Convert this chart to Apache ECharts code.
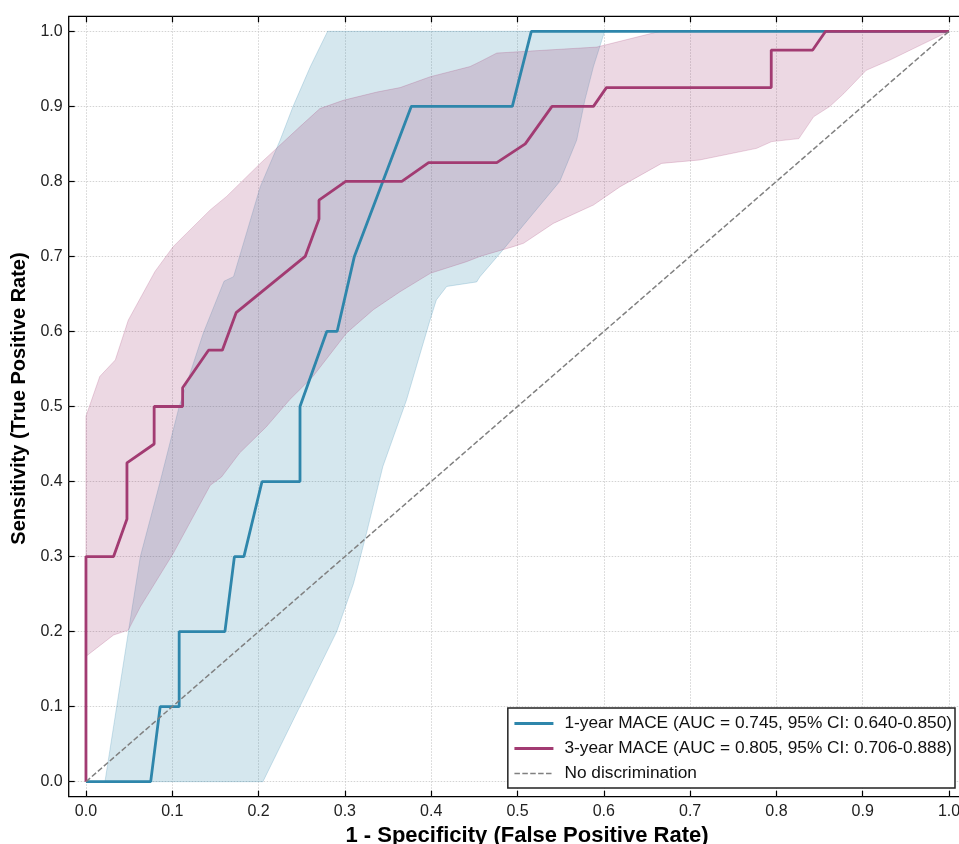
<!DOCTYPE html>
<html>
<head>
<meta charset="utf-8">
<script src="https://cdn.jsdelivr.net/npm/echarts@6/dist/echarts.min.js"></script>
<style>html,body{margin:0;padding:0;background:#fff;}#c{width:959px;height:844px;}</style>
</head>
<body>
<div id="c"></div>
<script>
// ---- data ----
const tickValues = [0, 0.1, 0.2, 0.3, 0.4, 0.5, 0.6, 0.7, 0.8, 0.9, 1.0];

// 1-year MACE ROC curve
const fpr1 = [0, 0.075, 0.086, 0.108, 0.108, 0.161, 0.172, 0.183, 0.204, 0.248, 0.248, 0.279, 0.291, 0.311, 0.377, 0.494, 0.516, 1.0];
const tpr1 = [0, 0, 0.1, 0.1, 0.2, 0.2, 0.3, 0.3, 0.4, 0.4, 0.5, 0.6, 0.6, 0.7, 0.9, 0.9, 1.0, 1.0];

// 3-year MACE ROC curve
const fpr3 = [0, 0, 0.032, 0.0475, 0.0475, 0.079, 0.079, 0.112, 0.112, 0.142, 0.158, 0.174, 0.254, 0.27, 0.27, 0.301, 0.366, 0.397, 0.476, 0.509, 0.540, 0.588, 0.603, 0.794, 0.794, 0.842, 0.857, 1.0];
const tpr3 = [0, 0.3, 0.3, 0.35, 0.425, 0.45, 0.5, 0.5, 0.525, 0.575, 0.575, 0.625, 0.7, 0.75, 0.775, 0.8, 0.8, 0.825, 0.825, 0.85, 0.9, 0.9, 0.925, 0.925, 0.975, 0.975, 1.0, 1.0];

// 1-year 95% CI band
const ci1UpX = [0.022, 0.050, 0.063, 0.086, 0.108, 0.136, 0.160, 0.171, 0.186, 0.202, 0.225, 0.240, 0.260, 0.280, 1.0];
const ci1UpY = [0, 0.206, 0.30, 0.40, 0.50, 0.598, 0.667, 0.673, 0.731, 0.793, 0.855, 0.90, 0.953, 1.0, 1.0];
const ci1LoX = [0.205, 0.2905, 0.31, 0.325, 0.344, 0.3715, 0.3986, 0.406, 0.418, 0.4527, 0.4565, 0.4797, 0.549, 0.5686, 0.578, 0.588, 0.601, 1.0];
const ci1LoY = [0, 0.2, 0.264, 0.331, 0.42, 0.509, 0.615, 0.642, 0.66, 0.666, 0.673, 0.704, 0.80, 0.855, 0.908, 0.953, 1.0, 1.0];

// 3-year 95% CI band
const ci3UpX = [0, 0.016, 0.034, 0.049, 0.080, 0.101, 0.144, 0.163, 0.202, 0.248, 0.271, 0.298, 0.337, 0.364, 0.399, 0.445, 0.4565, 0.476, 0.592, 0.665, 1.0];
const ci3UpY = [0.487, 0.54, 0.562, 0.615, 0.68, 0.713, 0.762, 0.78, 0.824, 0.873, 0.897, 0.908, 0.919, 0.925, 0.9395, 0.953, 0.9595, 0.971, 0.979, 1.0, 1.0];
const ci3LoX = [0, 0.032, 0.049, 0.063, 0.101, 0.144, 0.157, 0.178, 0.209, 0.236, 0.263, 0.302, 0.333, 0.364, 0.399, 0.441, 0.4565, 0.495, 0.507, 0.5415, 0.588, 0.619, 0.667, 0.711, 0.777, 0.7945, 0.826, 0.843, 0.862, 0.878, 0.904, 0.932, 1.0];
const ci3LoY = [0.167, 0.1955, 0.202, 0.233, 0.304, 0.395, 0.406, 0.438, 0.473, 0.509, 0.54, 0.598, 0.629, 0.653, 0.6775, 0.693, 0.70, 0.713, 0.7175, 0.744, 0.7685, 0.793, 0.824, 0.8285, 0.844, 0.853, 0.857, 0.886, 0.90, 0.917, 0.948, 0.962, 1.0];

// chance line
const diagX = [0, 1];
const diagY = [0, 1];

const name1 = '1-year MACE (AUC = 0.745, 95% CI: 0.640-0.850)';
const name3 = '3-year MACE (AUC = 0.805, 95% CI: 0.706-0.888)';
const nameDiag = 'No discrimination';

// ---- build ----
const zip = (xs, ys) => xs.map((x, i) => [x, ys[i]]);
const FONT = '"Liberation Sans", Arial, sans-serif';
const BLUE = '#2E86AB';
const MAG = '#A23B72';

function bandSeries(upX, upY, loX, loY, fill, stroke) {
  const up = zip(upX, upY);
  const lo = zip(loX, loY);
  return {
    type: 'custom',
    silent: true,
    clip: true,
    z: 1,
    data: [[0, 0]],
    renderItem: function (params, api) {
      const pts = up.map(p => api.coord(p)).concat(lo.slice().reverse().map(p => api.coord(p)));
      return {
        type: 'polygon',
        shape: { points: pts },
        style: { fill: fill, stroke: stroke, lineWidth: 1 }
      };
    }
  };
}

const chart = echarts.init(document.getElementById('c'), null, { renderer: 'canvas' });

const tickStyle = { show: true, inside: true, length: 6, customValues: tickValues, lineStyle: { color: '#000', width: 1.2 } };
const axisCommon = {
  type: 'value',
  min: -0.02,
  max: 1.02,
};

chart.setOption({
  animation: false,
  backgroundColor: '#fff',
  textStyle: { fontFamily: FONT },
  grid: {
    left: 68.7, top: 16.3, width: 897.6, height: 780.4,
    outerBoundsMode: 'none',
    containLabel: false,
    show: true, borderColor: '#000', borderWidth: 1.3, backgroundColor: 'transparent'
  },
  xAxis: [
    Object.assign({}, axisCommon, {
      position: 'bottom',
      name: '1 - Specificity (False Positive Rate)',
      nameLocation: 'middle',
      nameGap: 28,
      nameTextStyle: { fontFamily: FONT, fontSize: 22, fontWeight: 'bold', color: '#000', padding: [0, 0, 0, 19] },
      axisLine: { show: false, onZero: false },
      axisTick: tickStyle,
      axisLabel: { show: true, customValues: tickValues, margin: 7, fontSize: 16, color: '#222', fontFamily: FONT,
        formatter: v => v.toFixed(1) },
      splitLine: { show: true, lineStyle: { color: '#c8c8c8', width: 0.8, type: [1.5, 1.5] } }
    }),
    Object.assign({}, axisCommon, {
      position: 'top',
      axisLine: { show: false, onZero: false },
      axisTick: tickStyle,
      axisLabel: { show: false },
      splitLine: { show: false }
    })
  ],
  yAxis: [
    Object.assign({}, axisCommon, {
      position: 'left',
      name: 'Sensitivity (True Positive Rate)',
      nameLocation: 'middle',
      nameGap: 34,
      nameTextStyle: { fontFamily: FONT, fontSize: 20, fontWeight: 'bold', color: '#000', padding: [0, 0, 0, 16] },
      axisLine: { show: false, onZero: false },
      axisTick: tickStyle,
      axisLabel: { show: true, customValues: tickValues, margin: 6, fontSize: 16, color: '#222', fontFamily: FONT,
        formatter: v => v.toFixed(1) },
      splitLine: { show: true, lineStyle: { color: '#c8c8c8', width: 0.8, type: [1.5, 1.5] } }
    }),
    Object.assign({}, axisCommon, {
      position: 'right',
      axisLine: { show: false, onZero: false },
      axisTick: tickStyle,
      axisLabel: { show: false },
      splitLine: { show: false }
    })
  ],
  legend: {
    orient: 'vertical',
    right: 4,
    bottom: 56,
    data: [
      { name: name1, lineStyle: { width: 3.2 } },
      { name: name3, lineStyle: { width: 3.2 } },
      { name: nameDiag, lineStyle: { width: 1.5 } }
    ],
    backgroundColor: '#fff',
    borderColor: '#222',
    borderWidth: 1.5,
    borderRadius: 0,
    padding: [7, 3, 6, 5],
    itemGap: 8,
    itemWidth: 39,
    itemHeight: 14,
    itemStyle: { opacity: 0 },
    textStyle: { fontFamily: FONT, fontSize: 17.3, color: '#111', padding: [0, 0, 0, 6] }
  },
  series: [
    bandSeries(ci1UpX, ci1UpY, ci1LoX, ci1LoY, 'rgba(46,134,171,0.2)', 'rgba(46,134,171,0.22)'),
    bandSeries(ci3UpX, ci3UpY, ci3LoX, ci3LoY, 'rgba(162,59,114,0.2)', 'rgba(162,59,114,0.22)'),
    {
      name: name1, type: 'line', data: zip(fpr1, tpr1), symbol: 'none', showSymbol: false,
      lineStyle: { color: BLUE, width: 2.8 }, itemStyle: { color: BLUE }, z: 3, clip: false
    },
    {
      name: name3, type: 'line', data: zip(fpr3, tpr3), symbol: 'none', showSymbol: false,
      lineStyle: { color: MAG, width: 2.8 }, itemStyle: { color: MAG }, z: 3, clip: false
    },
    {
      name: nameDiag, type: 'line', data: zip(diagX, diagY), symbol: 'none', showSymbol: false,
      lineStyle: { color: '#808080', width: 1.5, type: [5.5, 2.4] }, itemStyle: { color: '#808080' }, z: 4
    }
  ]
});
</script>
</body>
</html>
